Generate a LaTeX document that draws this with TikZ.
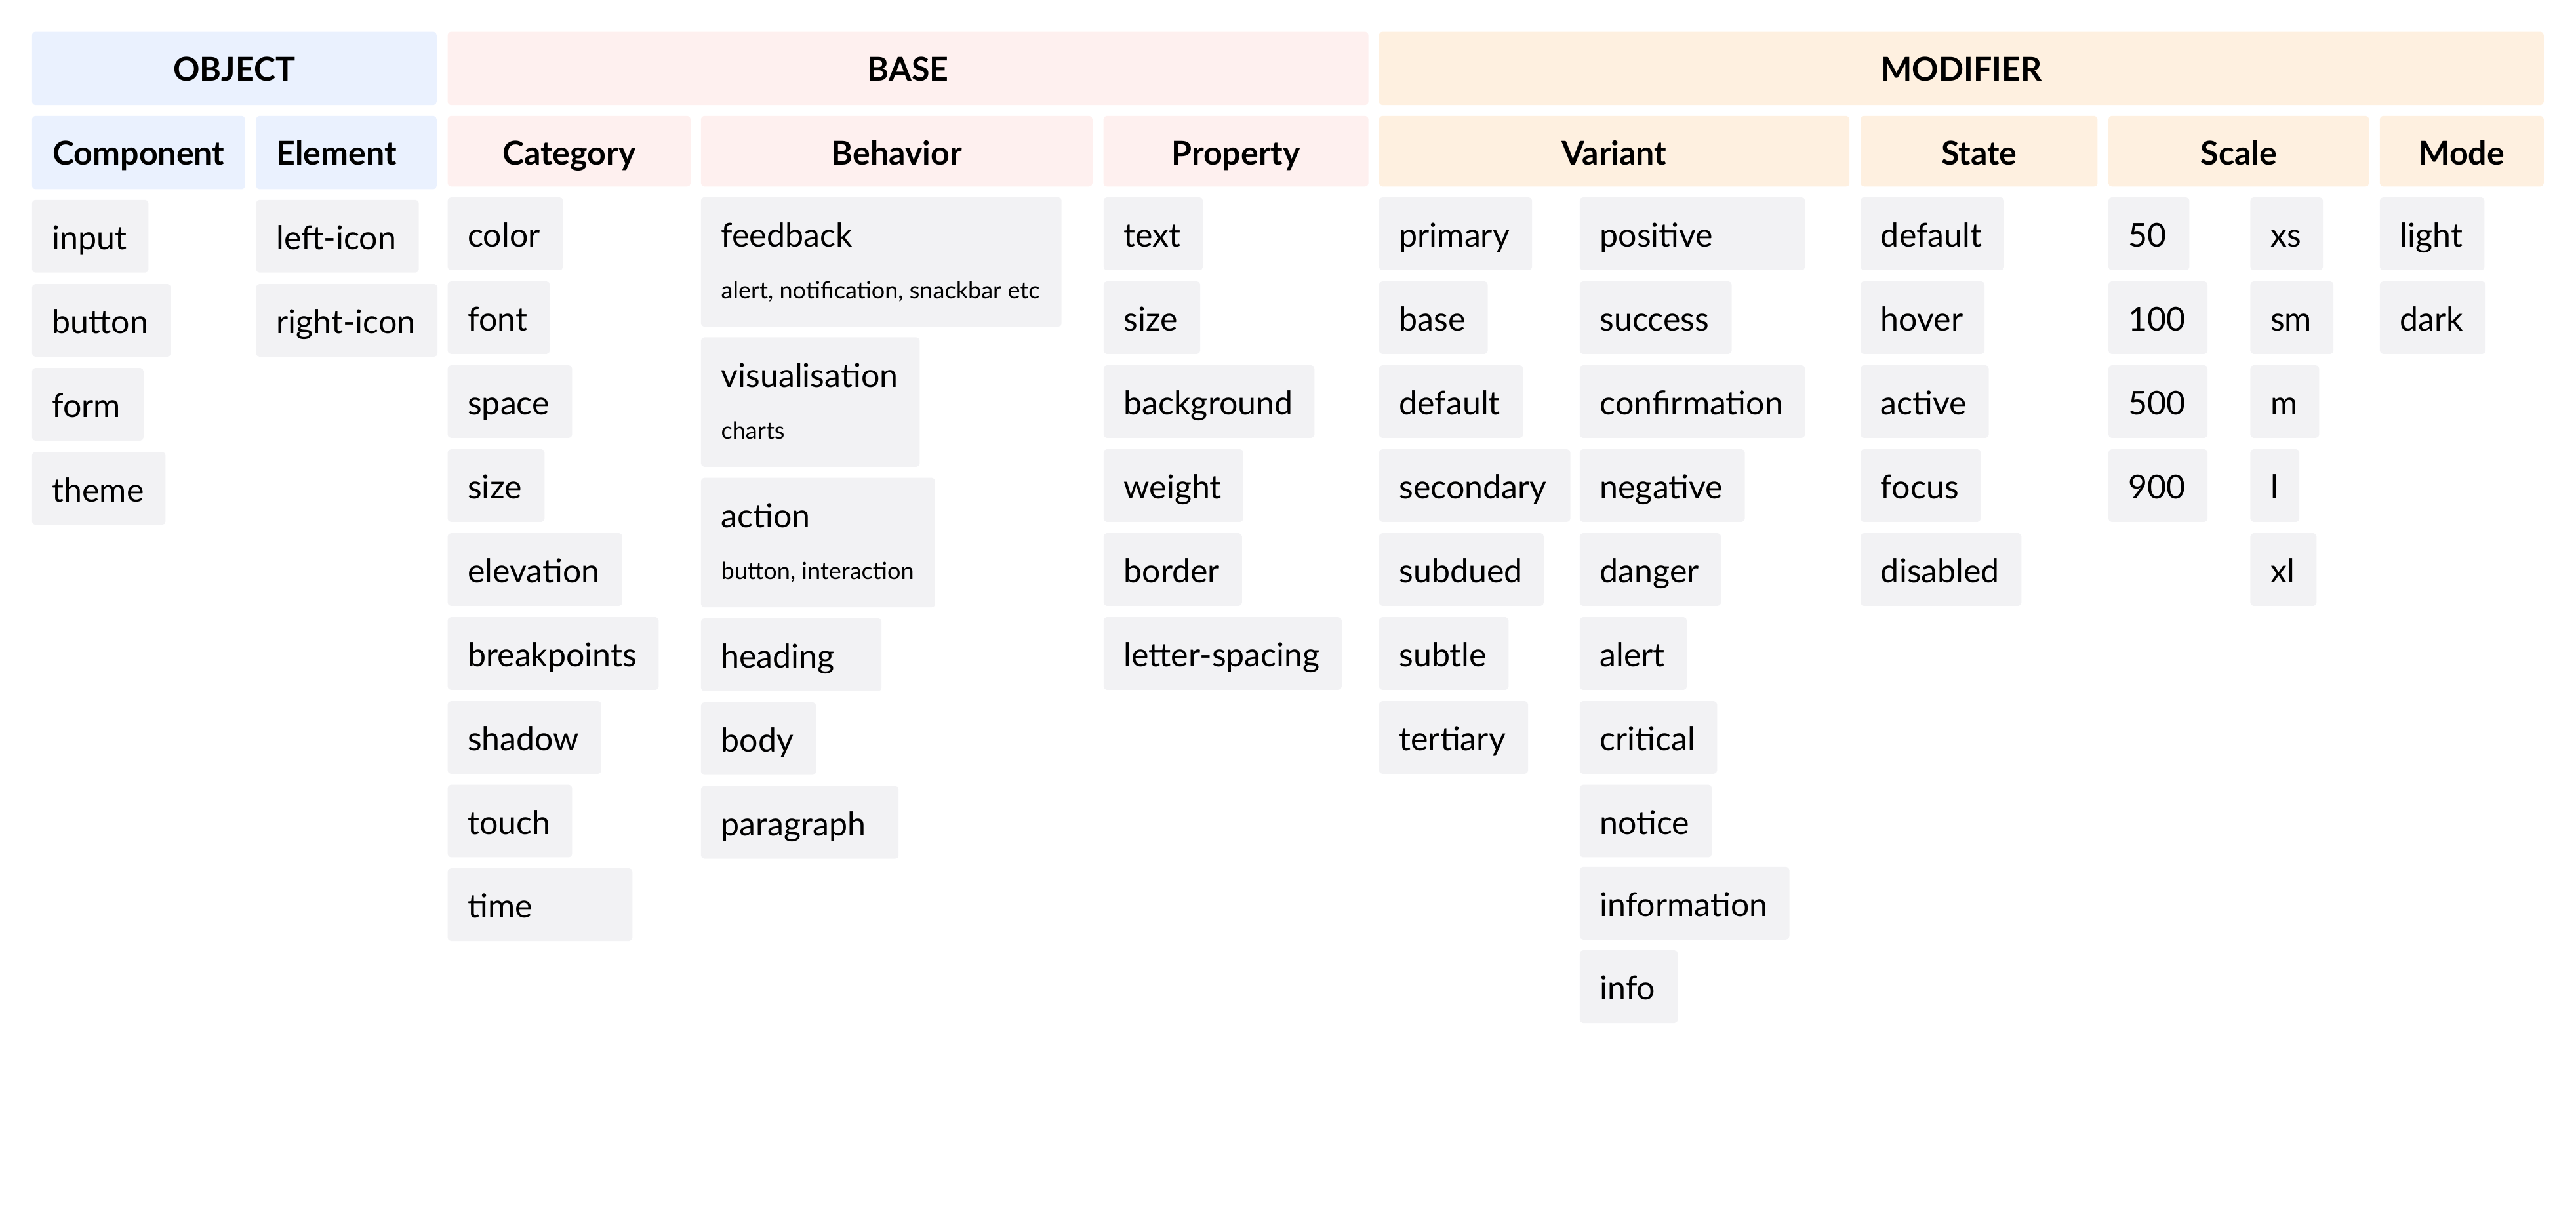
\documentclass[tikz,border=0pt]{standalone}
\usepackage{fontspec}
\setmainfont{Lato}
\newcommand\itemfont{\fontsize{15pt}{18pt}\selectfont}
\newcommand\subfont{\fontsize{10.8pt}{13pt}\selectfont\spaceskip=0pt\xspaceskip=0pt}
\newcommand\headfont{\fontsize{15pt}{18pt}\selectfont\bfseries}
\definecolor{objfill}{RGB}{234,241,254}
\definecolor{basefill}{RGB}{254,240,239}
\definecolor{modfill}{RGB}{254,240,224}
\tikzset{
  grp/.style 2 args={fill=#1, rounded corners=1.5pt, anchor=north west, inner sep=0pt, align=center, font=\headfont, text height=22.4pt, text depth=11.05pt, /utils/exec={\pgfmathsetlengthmacro\hdw{#2*0.75pt}}, text width=\hdw},
  colhd/.style 2 args={grp={#1}{#2}, text depth=9.78pt},
  tag/.style={fill={rgb, 255:red, 242; green, 242; blue, 244 }, rounded corners=1.5pt, anchor=north west, inner xsep=9.2pt, inner ysep=0pt, align=left, font=\itemfont, text height=22.7pt, text depth=10.5pt, /utils/exec={\pgfmathsetlengthmacro\tagw{#1*0.75pt-18.4pt}}, text width=\tagw},
  tagtwo/.style={tag=#1, text depth=36.4pt},
}
\begin{document}
\begin{tikzpicture}[x=0.75pt,y=0.75pt,yscale=-1,xscale=1]
\useasboundingbox (0,0) rectangle (1568,745.67);

%Shape: Group headers
\node[grp={objfill}{246.3}] (obj) at (19.2,19.1) {OBJECT};
\node[grp={basefill}{560.5}] (base) at (272.2,19.1) {BASE};
\node[grp={modfill}{709}] (mod) at (839.1,19.1) {MODIFIER};

%Shape: Column headers
\node[colhd={objfill}{129.7}, text depth=11.05pt] (component) at (19.2,70.3) {Component};
\node[colhd={objfill}{109.9}, text depth=11.05pt] (element) at (155.6,70.3) {Element\kern9pt};
\node[colhd={basefill}{147.9}] (category) at (272.2,70.3) {Category};
\node[colhd={basefill}{238.3}] (behavior) at (426.4,70.3) {Behavior};
\node[colhd={basefill}{161.3}] (property) at (671.4,70.3) {Property};
\node[colhd={modfill}{286.4}] (variant) at (839.1,70.3) {Variant};
\node[colhd={modfill}{144.2}] (state) at (1132.3,70.3) {State};
\node[colhd={modfill}{158.6}] (scale) at (1283.1,70.3) {Scale};
\node[colhd={modfill}{99.8}] (mode) at (1448.3,70.3) {Mode};

%Shape: Component
\node[tag=70.9] (cmp-input) at (19.2,121.4) {input};
\node[tag=84.5] (cmp-button) at (19.2,172.6) {button};
\node[tag=67.9] (cmp-form) at (19.2,223.7) {form};
\node[tag=81.3] (cmp-theme) at (19.2,274.9) {theme};

%Shape: Element
\node[tag=99.1] (el-lefticon) at (155.6,121.4) {left-icon};
\node[tag=110.4] (el-righticon) at (155.6,172.6) {right-icon};

%Shape: Category
\node[tag=70.2] (cat-color) at (272.2,119.9) {color};
\node[tag=62.2] (cat-font) at (272.2,171.0) {font};
\node[tag=75.8] (cat-space) at (272.2,222.1) {space};
\node[tag=59.0] (cat-size) at (272.2,273.2) {size};
\node[tag=106.3] (cat-elevation) at (272.2,324.3) {elevation};
\node[tag=128.5] (cat-breakpoints) at (272.2,375.4) {breakpoints};
\node[tag=93.5] (cat-shadow) at (272.2,426.5) {shadow};
\node[tag=75.8] (cat-touch) at (272.2,477.4) {touch};
\node[tag=112.5] (cat-time) at (272.2,528.3) {time};

%Shape: Behavior
\node[tagtwo=219.5] (beh-feedback) at (426.4,119.8) {feedback\\[5.6pt]{\subfont alert, notification, snackbar etc}};
\node[tagtwo=133.1] (beh-visualisation) at (426.4,205.1) {visualisation\\[5.6pt]{\subfont charts}};
\node[tagtwo=142.5] (beh-action) at (426.4,290.6) {action\\[5.6pt]{\subfont button, interaction}};
\node[tag=109.9] (beh-heading) at (426.4,376.1) {heading};
\node[tag=70.0] (beh-body) at (426.4,427.2) {body};
\node[tag=120.3] (beh-paragraph) at (426.4,478.2) {paragraph};

%Shape: Property
\node[tag=60.4] (prop-text) at (671.5,119.9) {text};
\node[tag=58.8] (prop-size) at (671.5,171.0) {size};
\node[tag=128.3] (prop-background) at (671.5,222.1) {background};
\node[tag=85.0] (prop-weight) at (671.5,273.2) {weight};
\node[tag=84.2] (prop-border) at (671.5,324.3) {border};
\node[tag=144.9] (prop-letterspacing) at (671.5,375.4) {letter-spacing};

%Shape: Variant
\node[tag=93.2] (var-primary) at (839.1,119.9) {primary};
\node[tag=66.2] (var-base) at (839.1,171.0) {base};
\node[tag=87.7] (var-default) at (839.1,222.1) {default};
\node[tag=116.5] (var-secondary) at (839.1,273.2) {secondary};
\node[tag=100.3] (var-subdued) at (839.1,324.3) {subdued};
\node[tag=78.9] (var-subtle) at (839.1,375.4) {subtle};
\node[tag=90.8] (var-tertiary) at (839.1,426.5) {tertiary};
\node[tag=137.1] (var-positive) at (961.3,119.9) {positive};
\node[tag=92.5] (var-success) at (961.3,171.0) {success};
\node[tag=137.1] (var-confirmation) at (961.3,222.1) {confirmation};
\node[tag=100.5] (var-negative) at (961.3,273.2) {negative};
\node[tag=86.0] (var-danger) at (961.3,324.3) {danger};
\node[tag=65.2] (var-alert) at (961.3,375.4) {alert};
\node[tag=83.6] (var-critical) at (961.3,426.5) {critical};
\node[tag=80.4] (var-notice) at (961.3,477.4) {notice};
\node[tag=127.6] (var-information) at (961.3,527.4) {information};
\node[tag=59.7] (var-info) at (961.3,578.2) {info};

%Shape: State
\node[tag=87.3] (st-default) at (1132.3,119.9) {default};
\node[tag=75.4] (st-hover) at (1132.3,171.0) {hover};
\node[tag=78.0] (st-active) at (1132.3,222.1) {active};
\node[tag=73.1] (st-focus) at (1132.3,273.2) {focus};
\node[tag=97.9] (st-disabled) at (1132.3,324.3) {disabled};

%Shape: Scale
\node[tag=49.3] (sc-50) at (1283.1,119.9) {50};
\node[tag=60.3] (sc-100) at (1283.1,171.0) {100};
\node[tag=60.3] (sc-500) at (1283.1,222.1) {500};
\node[tag=60.3] (sc-900) at (1283.1,273.2) {900};
\node[tag=44.2] (sc-xs) at (1369.5,119.9) {xs};
\node[tag=50.6] (sc-sm) at (1369.5,171.0) {sm};
\node[tag=41.9] (sc-m) at (1369.5,222.1) {m};
\node[tag=29.8] (sc-l) at (1369.5,273.2) {l};
\node[tag=40.3] (sc-xl) at (1369.5,324.3) {xl};

%Shape: Mode
\node[tag=63.7] (mo-light) at (1448.3,119.9) {light};
\node[tag=64.4] (mo-dark) at (1448.3,171.0) {dark};

\end{tikzpicture}
\end{document}
